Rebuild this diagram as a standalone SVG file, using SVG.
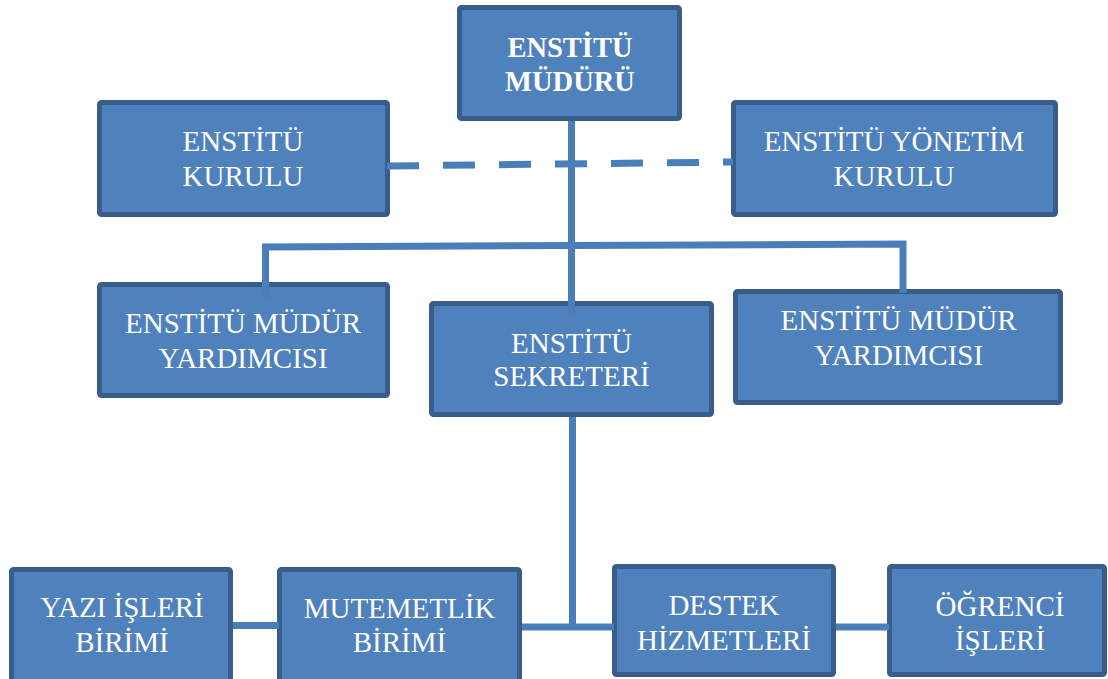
<svg xmlns="http://www.w3.org/2000/svg" width="1108" height="679" viewBox="0 0 1108 679">
<style>
.box{fill:#4F81BD;stroke:#385D8A;stroke-width:5}
.t{font-family:"Liberation Serif","Times New Roman",serif;font-size:29px;fill:#FFFFFF;text-anchor:middle}
.b{font-weight:bold;font-size:28.5px}
.c{fill:none;stroke:#4A7EBB;stroke-width:7}
</style>
<rect width="1108" height="679" fill="#FFFFFF"/>
<g id="mudur">
<rect class="box" x="459.5" y="7.5" width="220" height="111" rx="2"/>
<text class="t b" x="570" y="57">ENSTİTÜ</text>
<text class="t b" x="570" y="91">MÜDÜRÜ</text>
</g>
<g id="kurul">
<rect class="box" x="99.5" y="102.5" width="288" height="112" rx="2"/>
<text class="t" x="243" y="151">ENSTİTÜ</text>
<text class="t" x="243" y="186">KURULU</text>
</g>
<g id="yonetim">
<rect class="box" x="733.5" y="102.5" width="322" height="112" rx="2"/>
<text class="t" x="894" y="151">ENSTİTÜ YÖNETİM</text>
<text class="t" x="894" y="186">KURULU</text>
</g>
<g id="yardimci1">
<rect class="box" x="99.5" y="284.5" width="288" height="111" rx="2"/>
<text class="t" x="243" y="333">ENSTİTÜ MÜDÜR</text>
<text class="t" x="243" y="368">YARDIMCISI</text>
</g>
<g id="sekreter">
<rect class="box" x="431.5" y="303.5" width="280" height="111" rx="2"/>
<text class="t" x="571.5" y="353">ENSTİTÜ</text>
<text class="t" x="571.5" y="386">SEKRETERİ</text>
</g>
<g id="yardimci2">
<rect class="box" x="735.5" y="291.5" width="325" height="111" rx="2"/>
<text class="t" x="898.5" y="330">ENSTİTÜ MÜDÜR</text>
<text class="t" x="898.5" y="365">YARDIMCISI</text>
</g>
<g id="yazi">
<rect class="box" x="11.5" y="569.5" width="219" height="113" rx="2"/>
<text class="t" x="122" y="617">YAZI İŞLERİ</text>
<text class="t" x="122" y="652">BİRİMİ</text>
</g>
<g id="mutemetlik">
<rect class="box" x="279.5" y="569.5" width="240" height="113" rx="2"/>
<text class="t" x="399.5" y="618">MUTEMETLİK</text>
<text class="t" x="399.5" y="652">BİRİMİ</text>
</g>
<g id="destek">
<rect class="box" x="614.5" y="566.5" width="219" height="108" rx="2"/>
<text class="t" x="724" y="615">DESTEK</text>
<text class="t" x="724" y="650">HİZMETLERİ</text>
</g>
<g id="ogrenci">
<rect class="box" x="889.5" y="566.5" width="215" height="108" rx="2"/>
<text class="t" x="1000" y="616">ÖĞRENCİ</text>
<text class="t" x="1000" y="650">İŞLERİ</text>
</g>
<g id="connectors">
<path class="c" d="M571.5,121 V317"/>
<path class="c" d="M387,166 L733,162" stroke-width="8" stroke-dasharray="32 24"/>
<path class="c" d="M265.5,298 V247 L903,244 V293"/>
<path class="c" d="M572.5,417 V627"/>
<path class="c" d="M522,627 H614" stroke-width="8"/>
<path class="c" d="M233,625.5 H279"/>
<path class="c" d="M836,627 H889"/>
</g>
</svg>
